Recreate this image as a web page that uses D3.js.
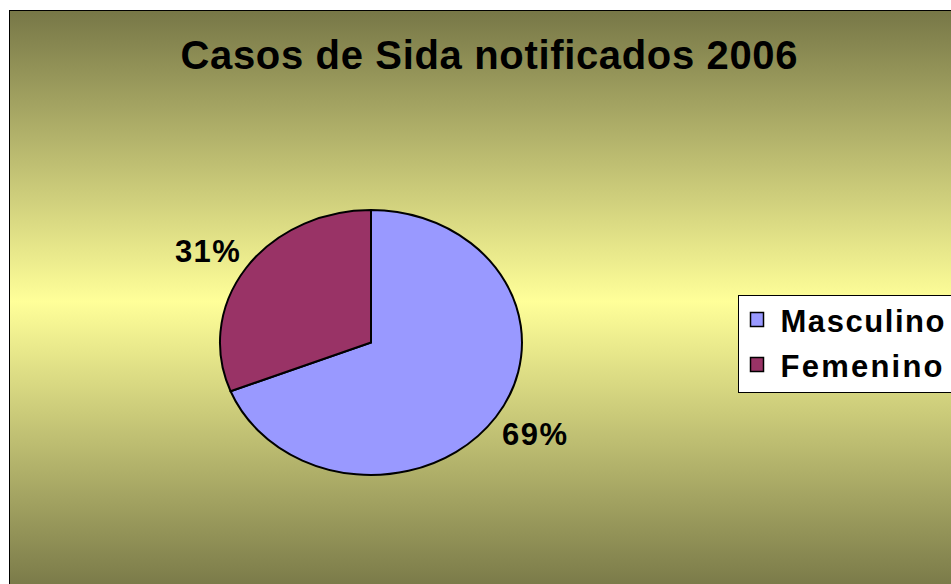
<!DOCTYPE html>
<html>
<head>
<meta charset="utf-8">
<script src="https://cdn.jsdelivr.net/npm/d3@7"></script>
<style>
  html, body { margin: 0; padding: 0; background: #fff; }
  svg { display: block; font-family: "Liberation Sans", Arial, sans-serif; font-weight: bold; }
</style>
</head>
<body>
<svg id="chart" width="951" height="584"></svg>
<script>
// chart data
var categories = ["Masculino", "Femenino"];
var values = [69, 31];
var sliceLabels = ["69%", "31%"];
var colors = ["#9999ff", "#993366"];
var title = "Casos de Sida notificados 2006";

var svg = d3.select("#chart");

// background gradient (dark olive -> light yellow -> dark olive)
var defs = svg.append("defs");
var grad = defs.append("linearGradient")
    .attr("id", "bg")
    .attr("x1", 0).attr("y1", 0).attr("x2", 0).attr("y2", 1);
grad.append("stop").attr("offset", "0%").attr("stop-color", "#777747");
grad.append("stop").attr("offset", "50%").attr("stop-color", "#ffff99");
grad.append("stop").attr("offset", "100%").attr("stop-color", "#777747");

svg.append("rect")
    .attr("x", 9.5).attr("y", 10.5)
    .attr("width", 960).attr("height", 582)
    .attr("fill", "url(#bg)")
    .attr("stroke", "#000")
    .attr("stroke-width", 1);

// title
svg.append("text")
    .attr("x", 489).attr("y", 69)
    .attr("text-anchor", "middle")
    .attr("font-size", 40)
    .attr("textLength", 617)
    .attr("lengthAdjust", "spacing")
    .attr("fill", "#000")
    .text(title);

// pie (Excel draws it slightly stretched, so use an ellipse)
var cx = 371, cy = 342.5, rx = 151, ry = 132.5;

var pie = d3.pie().sort(null).value(function(d) { return d; });
var arcs = pie(values);

var arc = d3.arc().innerRadius(0).outerRadius(1);
var labelArc = d3.arc().innerRadius(1).outerRadius(1);

var g = svg.append("g")
    .attr("transform", "translate(" + cx + "," + cy + ") scale(" + rx + "," + ry + ")");

g.selectAll("path")
    .data(arcs)
    .enter()
    .append("path")
    .attr("d", arc)
    .attr("fill", function(d, i) { return colors[i]; })
    .attr("stroke", "#000")
    .attr("stroke-width", 2)
    .attr("vector-effect", "non-scaling-stroke");

// percentage labels outside the slices
var kx = 1.31, ky = 1.235;
svg.selectAll("text.pct")
    .data(arcs)
    .enter()
    .append("text")
    .attr("class", "pct")
    .attr("x", function(d) { return cx + rx * kx * labelArc.centroid(d)[0]; })
    .attr("y", function(d) { return cy + ry * ky * labelArc.centroid(d)[1] + 11; })
    .attr("text-anchor", "middle")
    .attr("font-size", 31)
    .attr("textLength", 65)
    .attr("lengthAdjust", "spacing")
    .text(function(d, i) { return sliceLabels[i]; });

// legend
var legend = svg.append("g").attr("transform", "translate(738.5,295.5)");
legend.append("rect")
    .attr("width", 230).attr("height", 97)
    .attr("fill", "#fff")
    .attr("stroke", "#000")
    .attr("stroke-width", 1);

var item = legend.selectAll("g.item")
    .data(categories)
    .enter()
    .append("g")
    .attr("class", "item")
    .attr("transform", function(d, i) { return "translate(0," + (i * 45) + ")"; });

item.append("rect")
    .attr("x", 12).attr("y", 17)
    .attr("width", 13).attr("height", 14)
    .attr("fill", function(d, i) { return colors[i]; })
    .attr("stroke", "#000")
    .attr("stroke-width", 1.5);

item.append("text")
    .attr("x", 42).attr("y", 36)
    .attr("font-size", 31)
    .attr("textLength", function(d, i) { return i === 0 ? 164 : 162; })
    .attr("lengthAdjust", "spacing")
    .text(function(d) { return d; });
</script>
</body>
</html>
